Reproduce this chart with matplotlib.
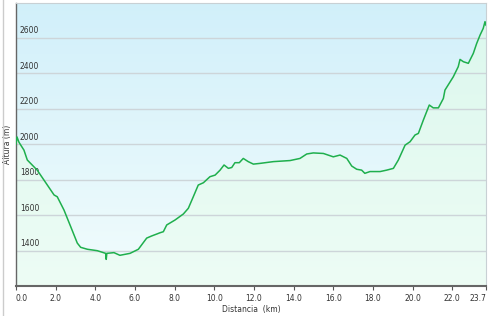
import numpy as np
import matplotlib
matplotlib.use("Agg")
import matplotlib.pyplot as plt
from matplotlib.lines import Line2D

# distance (km) and elevation (m)
dist = [0.0, 0.05, 0.15, 0.40, 0.57, 1.07, 1.41, 1.92, 2.08, 2.42, 2.76, 3.09,
        3.26, 3.60, 4.10, 4.52, 4.55, 4.58, 4.94, 5.24, 5.75, 6.17, 6.59, 6.84,
        7.10, 7.26, 7.43, 7.60, 8.02, 8.44, 8.69, 8.94, 9.19, 9.45, 9.78, 10.04,
        10.29, 10.49, 10.71, 10.88, 11.04, 11.26, 11.46, 11.71, 11.97, 12.30,
        12.98, 13.82, 14.32, 14.66, 14.99, 15.50, 16.00, 16.34, 16.68, 16.93,
        17.18, 17.43, 17.59, 17.85, 18.36, 18.69, 19.03, 19.28, 19.62, 19.87,
        20.12, 20.29, 20.54, 20.84, 21.04, 21.30, 21.55, 21.63, 22.05, 22.30,
        22.39, 22.56, 22.81, 23.06, 23.23, 23.40, 23.56, 23.65, 23.70]
elev = [2000, 2040, 2010, 1966, 1910, 1853, 1797, 1713, 1703, 1628, 1534, 1442,
        1418, 1407, 1399, 1384, 1350, 1384, 1388, 1373, 1384, 1407, 1470, 1482,
        1493, 1500, 1506, 1544, 1572, 1606, 1638, 1703, 1769, 1782, 1816, 1825,
        1853, 1882, 1863, 1868, 1895, 1895, 1919, 1901, 1887, 1891,
        1901, 1907, 1919, 1944, 1950, 1947, 1928, 1938, 1919, 1876,
        1858, 1853, 1835, 1845, 1845, 1853, 1863, 1910, 1994, 2013,
        2051, 2060, 2135, 2220, 2204, 2204, 2257, 2304, 2379, 2436,
        2477, 2464, 2455, 2511, 2567, 2614, 2652, 2690, 2670]

x_ticks = [0.0, 2.0, 4.0, 6.0, 8.0, 10.0, 12.0, 14.0, 16.0, 18.0, 20.0, 22.0, 23.7]
y_ticks = [1400, 1600, 1800, 2000, 2200, 2400, 2600]

fig = plt.figure(figsize=(4.92, 3.16), dpi=100)
fig.patch.set_facecolor('white')
ax = fig.add_axes([16 / 492, 1 - 286 / 316, 470 / 492, 283 / 316])
ax.set_xlim(0, 23.7)
ax.set_ylim(1200, 2795)

# background gradient (sky blue at top, pale at bottom)
t = np.linspace(0, 1, 256)[:, None]
top = np.array([0.82, 0.94, 0.98])
bot = np.array([0.95, 0.99, 0.99])
bg = bot + (top - bot) * t
ax.imshow(bg[::-1].reshape(256, 1, 3), extent=[0, 1, 0, 1], transform=ax.transAxes,
          aspect='auto', zorder=0)

# mint gradient under the curve
gtop = np.array([0.86, 0.97, 0.93])
gbot = np.array([0.93, 0.99, 0.96])
gg = gbot + (gtop - gbot) * t
poly = ax.fill_between(dist, elev, 1200, color='none', zorder=1)
im = ax.imshow(gg[::-1].reshape(256, 1, 3), extent=[0, 23.7, 1200, 2795],
               aspect='auto', zorder=1)
im.set_clip_path(poly.get_paths()[0], transform=ax.transData)

for y in y_ticks:
    ax.axhline(y, color='#cdd5d9', lw=1.0, zorder=2)
    ax.text(0.2, y + 12, f'{y}', fontsize=5.5, color='#333333',
            ha='left', va='bottom', zorder=3)

ax.plot(dist, elev, color='#1faf4d', lw=1.1, zorder=4)

ax.set_xticks(x_ticks)
ax.set_xticklabels([f'{v:.1f}' for v in x_ticks], fontsize=5.5, color='#333333')
labels = ax.get_xticklabels()
labels[0].set_ha('left')
labels[-1].set_ha('right')
ax.set_yticks([])
ax.tick_params(axis='x', length=3, width=0.8, color='#555555', pad=2.5)
ax.set_xlabel('Distancia  (km)', fontsize=5.5, color='#333333', labelpad=2)
ax.set_ylabel('Altura (m)', fontsize=5.5, color='#333333', labelpad=3)

ax.spines['left'].set_color('#666666')
ax.spines['left'].set_linewidth(1.0)
ax.spines['bottom'].set_color('#666666')
ax.spines['bottom'].set_linewidth(1.5)
ax.spines['top'].set_color('#c8d0d4')
ax.spines['right'].set_color('#c8d0d4')

fig.add_artist(Line2D([2.5 / 492, 2.5 / 492], [0, 1], color='#cccccc', lw=1))

fig.savefig('out.png', dpi=100)
